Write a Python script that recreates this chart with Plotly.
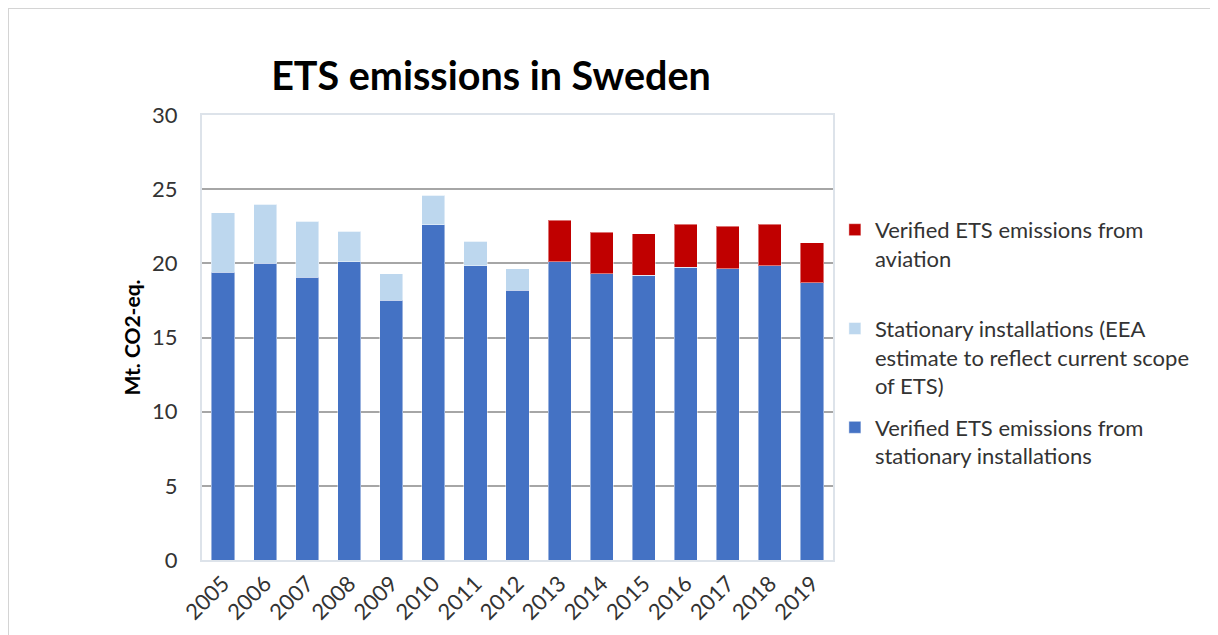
import plotly.graph_objects as go

years = ["2005", "2006", "2007", "2008", "2009", "2010", "2011", "2012",
         "2013", "2014", "2015", "2016", "2017", "2018", "2019"]
verified_stationary = [19.4, 20.0, 19.05, 20.1, 17.5, 22.6, 19.85, 18.2,
                       20.1, 19.3, 19.2, 19.75, 19.65, 19.85, 18.7]
eea_estimate = [4.0, 4.0, 3.8, 2.05, 1.8, 2.0, 1.65, 1.45,
                0, 0, 0, 0, 0, 0, 0]
aviation = [0, 0, 0, 0, 0, 0, 0, 0,
            2.8, 2.8, 2.8, 2.9, 2.85, 2.8, 2.7]

names = [
    "Verified ETS emissions from<br>stationary installations",
    "Stationary installations (EEA<br>estimate to reflect current scope<br>of ETS)",
    "Verified ETS emissions from<br>aviation<br> ",
]
colors = ["#4472C4", "#BDD7EE", "#C00000"]
ranks = [3, 2, 1]

fig = go.Figure()
for i, (vals, nm, col) in enumerate(zip([verified_stationary, eea_estimate, aviation], names, colors)):
    fig.add_trace(go.Bar(
        x=years, y=vals, name=nm, legendgroup=f"g{i}", legendrank=ranks[i],
        marker=dict(color=col, line=dict(color="rgba(255,255,255,0.45)", width=1)),
    ))

FONT = "Lato"
W, H = 1210, 627
L, T, PW, PH = 194, 107, 631, 445
fig.update_layout(
    width=W, height=H,
    barmode="stack", bargap=0.45,
    paper_bgcolor="white", plot_bgcolor="white",
    margin=dict(l=L, r=W - L - PW, t=T, b=H - T - PH, autoexpand=False),
    font=dict(family=FONT, color="#333333", size=22),
    title=dict(text="<b>ETS emissions in Sweden</b>", x=483 / W, xref="container",
               xanchor="center", y=1 - 68 / H, yref="container", yanchor="middle",
               font=dict(family=FONT, size=39.5, color="#000000")),
    legend=dict(traceorder="grouped", x=1.003, xanchor="left", y=0.789, yanchor="top",
                valign="top", font=dict(family=FONT, size=22, color="#333333"),
                tracegroupgap=10, bgcolor="rgba(0,0,0,0)"),
    showlegend=True,
    xaxis=dict(tickangle=-45, showline=True, linecolor="#dde3ea", linewidth=2, mirror=True,
               tickfont=dict(family=FONT, size=22, color="#333333"), ticks="", automargin=False),
    yaxis=dict(range=[0, 30], dtick=5, showgrid=True, gridcolor="#a6a6a6", gridwidth=1.5,
               showline=True, linecolor="#dde3ea", linewidth=2, mirror=True, zeroline=False,
               ticks="", ticklabelstandoff=18, automargin=False,
               tickfont=dict(family=FONT, size=22, color="#333333"),
               title=dict(text="<b>Mt. CO2-eq.</b>", standoff=6,
                          font=dict(family=FONT, size=21, color="#000000"))),
    shapes=[dict(type="rect", xref="paper", yref="paper",
                 x0=-L / PW, x1=2.0, y0=-0.5, y1=(PH + T) / PH,
                 line=dict(color="#d4d4d4", width=2), fillcolor="rgba(0,0,0,0)", layer="below")],
)

fig.write_html("out.html")
